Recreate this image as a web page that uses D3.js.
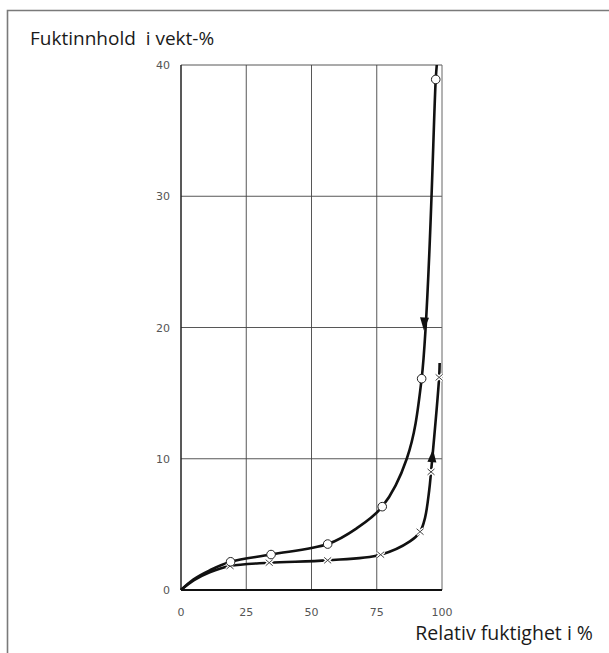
<!DOCTYPE html>
<html>
<head>
<meta charset="utf-8">
<script src="https://cdn.jsdelivr.net/npm/d3@7"></script>
<style>
  body { margin: 0; background: #fff; }
  svg { display: block; }
</style>
</head>
<body>
<div id="chart"></div>
<script>
// --- data ---
const xTicks = [0, 25, 50, 75, 100];
const yTicks = [0, 10, 20, 30, 40];

// desorption curve (circles), in % RH / weight-%
const desorbCurve = [[0, 0], [4.7, 0.8], [11, 1.5], [19, 2.15], [34.5, 2.7], [56.2, 3.5], [67.3, 4.7],
  [77.1, 6.35], [86.5, 10], [92.2, 16.1], [97.6, 38.9], [98, 40]];
const desorbPoints = [[19, 2.15], [34.5, 2.7], [56.2, 3.5], [77.1, 6.35], [92.2, 16.1], [97.6, 38.9]];

// absorption curve (crosses)
const absorbCurve = [[0, 0], [5, 0.75], [11, 1.35], [18.8, 1.83], [33.8, 2.08], [56.2, 2.26], [76.5, 2.69],
  [87.7, 3.7], [91.6, 4.44], [93.5, 5.5], [95.1, 7.6], [95.8, 9.0], [98.9, 16.2], [99.1, 17.3]];
const absorbPoints = [[18.8, 1.83], [33.8, 2.08], [56.2, 2.26], [76.5, 2.69], [91.6, 4.44], [95.8, 9.0], [98.9, 16.2]];

// --- setup ---
const width = 609, height = 653;
const svg = d3.select("#chart").append("svg").attr("width", width).attr("height", height);

const x = d3.scaleLinear().domain([0, 100]).range([181, 442]);
const y = d3.scaleLinear().domain([0, 40]).range([590, 65]);

// outer frame (runs off the right and bottom edge)
svg.append("path")
  .attr("d", "M7.5,660 V10.5 H620")
  .attr("fill", "none").attr("stroke", "#7a7a7a").attr("stroke-width", 1.6);

// titles
svg.append("text").attr("x", 30).attr("y", 45)
  .attr("font-family", "'Open Sans', sans-serif").attr("font-size", 19).attr("fill", "#1a1a1a")
  .attr("xml:space", "preserve")
  .text("Fuktinnhold  i vekt-%");

svg.append("text").attr("x", 593).attr("y", 640).attr("text-anchor", "end")
  .attr("font-family", "'Open Sans', sans-serif").attr("font-size", 19.5).attr("fill", "#1a1a1a")
  .text("Relativ fuktighet i %");

// grid
const grid = svg.append("g").attr("stroke", "#444").attr("stroke-width", 0.9);
grid.selectAll("line.v").data(xTicks.slice(1, -1)).join("line")
  .attr("x1", d => x(d)).attr("x2", d => x(d)).attr("y1", y(40)).attr("y2", y(0));
grid.selectAll("line.h").data(yTicks.slice(1)).join("line")
  .attr("x1", x(0)).attr("x2", x(100)).attr("y1", d => y(d)).attr("y2", d => y(d));

// plot border
svg.append("line").attr("x1", x(100)).attr("x2", x(100)).attr("y1", y(40)).attr("y2", y(0))
  .attr("stroke", "#666").attr("stroke-width", 1);
svg.append("line").attr("x1", x(0)).attr("x2", x(0)).attr("y1", y(40)).attr("y2", y(0))
  .attr("stroke", "#222").attr("stroke-width", 1.5);
svg.append("line").attr("x1", x(0)).attr("x2", x(100)).attr("y1", y(0)).attr("y2", y(0))
  .attr("stroke", "#111").attr("stroke-width", 2);

// tick labels
const tickFont = "'DejaVu Sans', sans-serif";
svg.append("g").selectAll("text").data(xTicks).join("text")
  .attr("x", d => x(d)).attr("y", 616).attr("text-anchor", "middle")
  .attr("font-family", tickFont).attr("font-size", 11).attr("fill", "#555")
  .text(d => d);
svg.append("g").selectAll("text").data(yTicks).join("text")
  .attr("x", 170).attr("y", d => y(d) + 4).attr("text-anchor", "end")
  .attr("font-family", tickFont).attr("font-size", 11).attr("fill", "#555")
  .text(d => d);

// curves
const line = d3.line().x(d => x(d[0])).y(d => y(d[1])).curve(d3.curveCatmullRom.alpha(0.5));
svg.append("path").datum(absorbCurve).attr("d", line)
  .attr("fill", "none").attr("stroke", "#111").attr("stroke-width", 2.6);
svg.append("path").datum(desorbCurve).attr("d", line)
  .attr("fill", "none").attr("stroke", "#111").attr("stroke-width", 2.6);

// arrows on the curves
function arrow(p0, p1, at) {
  const a = Math.atan2(y(p1[1]) - y(p0[1]), x(p1[0]) - x(p0[0])) * 180 / Math.PI;
  const t = (at - p0[1]) / (p1[1] - p0[1]);
  const px = x(p0[0] + t * (p1[0] - p0[0])), py = y(at);
  svg.append("path").attr("d", "M7,0 L-6,-4.5 L-6,4.5 Z")
    .attr("transform", `translate(${px},${py}) rotate(${a})`)
    .attr("fill", "#111");
}
arrow([97.6, 38.9], [92.2, 16.1], 20.3);
arrow([95.8, 9.0], [98.9, 16.2], 10.2);

// crosses
const cross = svg.append("g").selectAll("g").data(absorbPoints).join("g")
  .attr("transform", d => `translate(${x(d[0])},${y(d[1])})`);
cross.append("path").attr("d", "M-3.5,-3 L3.5,3 M-3.5,3 L3.5,-3")
  .attr("stroke", "#fff").attr("stroke-width", 3.5);
cross.append("path").attr("d", "M-3.5,-3 L3.5,3 M-3.5,3 L3.5,-3")
  .attr("stroke", "#444").attr("stroke-width", 1);

// circles
svg.append("g").selectAll("circle").data(desorbPoints).join("circle")
  .attr("cx", d => x(d[0])).attr("cy", d => y(d[1])).attr("r", 4.3)
  .attr("fill", "#fff").attr("stroke", "#222").attr("stroke-width", 1);
</script>
</body>
</html>
